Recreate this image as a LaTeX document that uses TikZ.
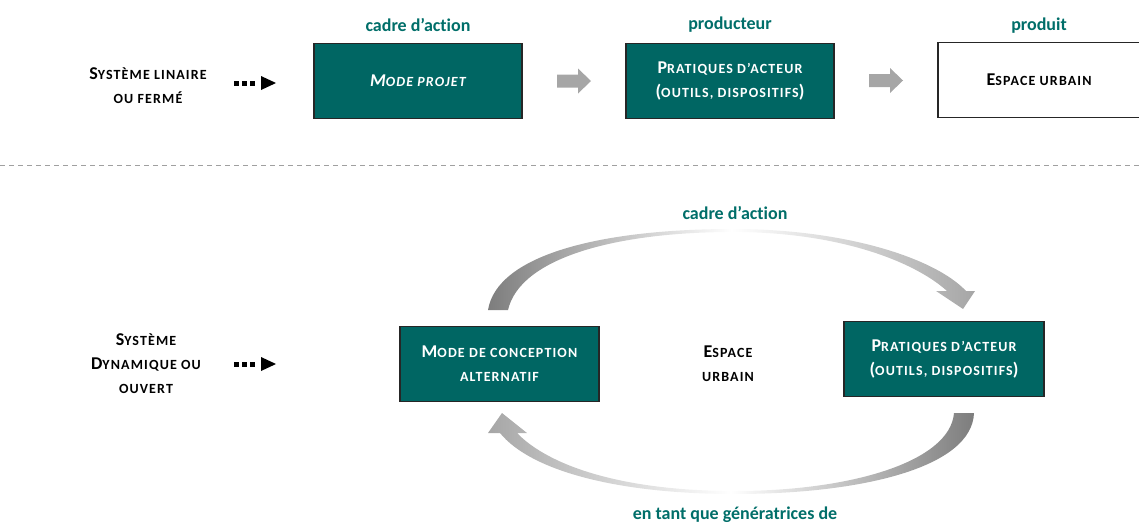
\documentclass[tikz,border=0pt]{standalone}
\usepackage{fontspec}
\setmainfont{Carlito}[Ligatures=NoCommon]
\usetikzlibrary{calc}
\definecolor{tealbox}{RGB}{0,102,99}
\definecolor{tealtxt}{RGB}{0,110,105}
\definecolor{arrgray}{RGB}{166,166,166}
\definecolor{darkgray}{RGB}{125,125,125}
\definecolor{dashgray}{RGB}{160,160,160}
\newcommand\Sm[1]{{\fontsize{14}{24}\selectfont\addfontfeatures{LetterSpace=8}#1}}
\newcommand\blockarrow[1]{%
  \fill[arrgray] ($(#1)+(-17,-6.5)$) -- ++(21,0) -- ++(0,-6) -- ++(13,12.5)
    -- ++(-13,12.5) -- ++(0,-6) -- ++(-21,0) -- cycle;}
\newcommand\dotarrow[1]{%
  \foreach \dx in {0,8,16}{\fill[black] ($(#1)+(\dx,-2.5)$) rectangle ++(5,5);}
  \fill[black] ($(#1)+(27,-7)$) -- ++(15,7) -- ++(-15,7) -- cycle;}
\begin{document}
\begin{tikzpicture}[x=1pt,y=-1pt,
  base/.style={font=\fontsize{18}{24}\selectfont\bfseries, align=center, inner sep=0pt},
  tbox/.style={base, draw=black!85, line width=1.2pt, fill=tealbox, text=white,
    minimum width=208pt, minimum height=75pt},
  wbox/.style={base, draw=black!85, line width=1.2pt, fill=white,
    minimum width=202pt, minimum height=75pt},
  lab/.style={base, text=tealtxt},
  plain/.style={base, text=black}]
\useasboundingbox (0,0) rectangle (1139,525);

% ---------- top row ----------
\node[plain] (sys1) at (148,86) {S\Sm{YSTÈME LINAIRE}\\\Sm{OU FERMÉ}};
\coordinate (d1) at (234,83);
\dotarrow{d1}

\node[tbox] (mp) at (418,81) {\itshape M\Sm{ODE PROJET}};
\node[tbox] (pa) at (730,81) {P\Sm{RATIQUES D’ACTEUR}\\(\Sm{OUTILS, DISPOSITIFS})};
\node[wbox] (eu) at (1039,80) {E\Sm{SPACE URBAIN}};

\node[lab] (l1) at (mp.north |- 0,25) {cadre d’action};
\node[lab] (l2) at (pa.north |- 0,25) {producteur};
\node[lab] (l3) at (eu.north |- 0,26) {produit};

\path (mp.east) -- (pa.west) coordinate[midway] (a1);
\path (pa.east) -- (eu.west) coordinate[midway] (a2);
\blockarrow{a1}
\blockarrow{a2}

% ---------- separator ----------
\coordinate (s0) at (0,165);
\coordinate (s1) at (1139,165);
\draw[dashgray, line width=1pt, dash pattern=on 5pt off 4pt] (s0) -- (s1);

% ---------- bottom row ----------
\node[plain] (sys2) at (146,364) {S\Sm{YSTÈME}\\D\Sm{YNAMIQUE OU}\\\Sm{OUVERT}};
\coordinate (d2) at (234,364);
\dotarrow{d2}

\node[tbox, minimum width=199pt] (mc) at (499.5,364) {M\Sm{ODE DE CONCEPTION}\\\Sm{ALTERNATIF}};
\node[tbox, minimum width=200pt] (pb) at (944,359) {P\Sm{RATIQUES D’ACTEUR}\\(\Sm{OUTILS, DISPOSITIFS})};
\node[plain] (eu2) at (728,364) {E\Sm{SPACE}\\\Sm{URBAIN}};

\node[lab] (l4) at (735,213) {cadre d’action};
\node[lab] (l5) at (735,515) {en tant que génératrices de};

% top curved arrow (mc -> pb)
\shade[left color=darkgray, right color=arrgray, middle color=white]
  (488,310) .. controls (497,255) and (600,229) .. (733,229)
  .. controls (845,229) and (935,258) .. (966,291)
  -- (975,291) -- (963,309) -- (936,291) -- (947,291)
  .. controls (915,262) and (840,232) .. (733,232)
  .. controls (615,232) and (520,258) .. (508,310) -- cycle;

% bottom curved arrow (pb -> mc)
\shade[left color=arrgray, right color=darkgray, middle color=white]
  (974,413) .. controls (972,468) and (860,494) .. (735,494)
  .. controls (615,494) and (530,470) .. (500,433)
  -- (488,433) -- (502,413) -- (527,433) -- (517,433)
  .. controls (548,465) and (620,491) .. (735,491)
  .. controls (850,491) and (950,462) .. (954,413) -- cycle;
\end{tikzpicture}
\end{document}
